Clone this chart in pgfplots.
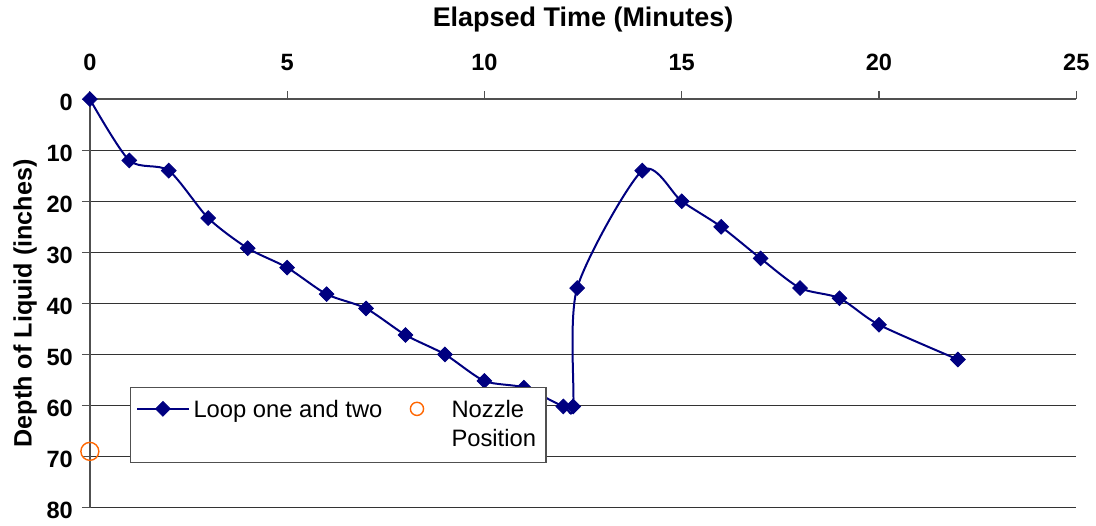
\documentclass[border=0pt]{standalone}
\usepackage{pgfplots}
\pgfplotsset{compat=1.18}
\usepackage{fontspec}
\setmainfont{Liberation Sans}

\definecolor{loopblue}{RGB}{0,0,128}
\definecolor{nozzleorange}{RGB}{255,102,0}
\definecolor{axisgray}{RGB}{80,80,80}

\pgfplotstableread{
t     depth
0     0
1     12
2     14
3     23.3
4     29.2
5     33
6     38.2
7     41
8     46.2
9     50
10    55.2
11    56.5
12    60.2
12.25 60.2
12.35 37
14    14
15    20
16    25
17    31.2
18    37
19    39
20    44.2
22    51
}\looptable

\begin{document}
\begin{tikzpicture}
\begin{axis}[
  scale only axis,
  width=494pt, height=204.5pt,
  xmin=0, xmax=25, ymin=0, ymax=80,
  y dir=reverse,
  axis x line*=top,
  axis y line*=left,
  axis line style={axisgray, line width=1pt},
  xtick={0,5,...,25}, ytick={0,10,...,80},
  tick align=outside,
  major tick length=4pt,
  tick style={axisgray, line width=0.6pt},
  ymajorgrids,
  grid style={black!80, line width=0.6pt},
  /pgf/number format/assume math mode=true,
  ticklabel style={font=\fontsize{11.8}{13}\selectfont\bfseries},
  xticklabel style={yshift=6.5pt},
  yticklabel style={xshift=-1pt, yshift=-1.5pt},
  xlabel={Elapsed Time (Minutes)},
  ylabel={Depth of Liquid (inches)},
  xlabel style={font=\fontsize{13.5}{15}\selectfont\bfseries, yshift=4.5pt},
  ylabel style={font=\fontsize{12.6}{14}\selectfont\bfseries, yshift=-2pt},
  legend columns=2,
  legend style={
    at={(axis description cs:0.0405,0.296)}, anchor=north west,
    draw=axisgray, line width=0.6pt,
    font=\fontsize{11.9}{14.5}\selectfont,
    inner xsep=3pt, inner ysep=3pt,
    /tikz/every even column/.append style={column sep=12pt},
  },
  legend cell align=left,
  legend image code/.code={%
    \draw[mark repeat=2,mark phase=2] plot coordinates {(0cm,0cm) (0.45cm,0cm) (0.9cm,0cm)};},
  clip=false,
]
\addplot[loopblue, line width=1pt, smooth, tension=0.45,
  mark=square*, mark size=2.6pt,
  mark options={solid, rotate=45, fill=loopblue, line width=0.4pt}]
  table[x=t, y=depth] {\looptable};
\addlegendentry{\begin{tabular}[t]{@{}l@{}}Loop one and two\end{tabular}}

\addplot[only marks, mark=o, mark size=4.5pt, nozzleorange, line width=0.7pt,
  legend image code/.code={%
    \draw plot[mark=o, mark size=3.3pt] coordinates {(0.3cm,0cm)};
    \path (0.3cm,-0.82cm);}]
  coordinates {(0,69)};
\addlegendentry{\begin{tabular}[t]{@{\hspace{12pt}}l@{}}Nozzle\\[0pt]Position\end{tabular}}
\end{axis}
\path (current axis.south west) ++(-45pt,-6.5pt) rectangle ([shift={(9pt,49.5pt)}]current axis.north east);
\end{tikzpicture}
\end{document}
